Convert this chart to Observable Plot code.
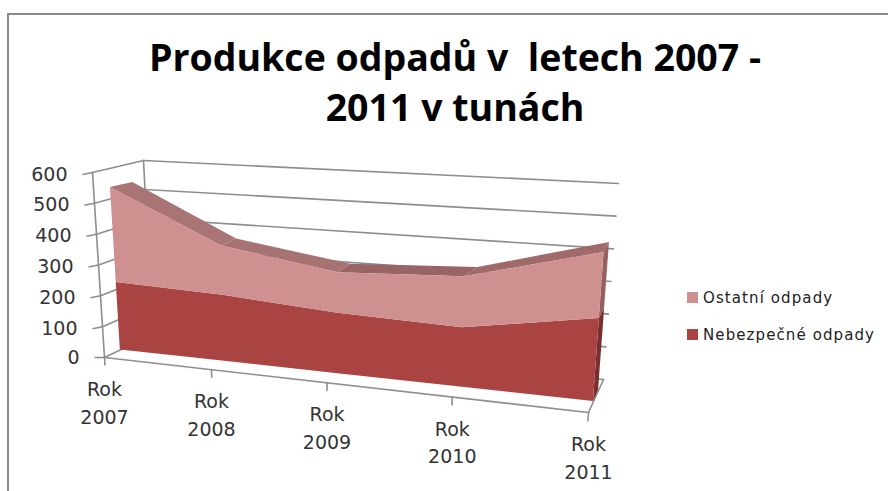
<!DOCTYPE html>
<html lang="cs">
<head>
<meta charset="utf-8">
<script src="https://cdn.jsdelivr.net/npm/d3@7"></script>
<script src="https://cdn.jsdelivr.net/npm/@observablehq/plot@0.6"></script>
<style>
html,body{margin:0;padding:0;background:#fff;width:888px;height:491px;overflow:hidden}
#wrap{position:relative;width:888px;height:491px}
#frame{position:absolute;left:7px;top:13px;width:881px;height:478px;border-top:2px solid #8c8c8c;border-left:2px solid #8c8c8c;box-sizing:border-box}
#title{position:absolute;left:0;top:32px;width:910px;text-align:center;font:700 37.5px/50px "Open Sans",sans-serif;color:#000}
#chart{position:absolute;left:0;top:130px}
.lg{position:absolute;left:687px;font:15px/18px "DejaVu Sans",sans-serif;color:#222;letter-spacing:1.1px;white-space:nowrap}
.lg i{position:absolute;left:0;top:3px;width:11px;height:11px}
.lg span{position:absolute;left:16px;top:0}
</style>
</head>
<body>
<div id="wrap">
<div id="frame"></div>
<div id="title">Produkce odpadů v&nbsp; letech 2007 -<br>2011 v tunách</div>
<div id="chart"></div>
<div class="lg" style="top:289px"><i style="background:#cf9090"></i><span>Ostatní odpady</span></div>
<div class="lg" style="top:326px"><i style="background:#a94442"></i><span>Nebezpečné odpady</span></div>
</div>
<script>
const categories = ["Rok\n2007", "Rok\n2008", "Rok\n2009", "Rok\n2010", "Rok\n2011"];
const nebezpecne = [223, 213, 190, 181, 247];
const ostatni = [314, 159, 127, 156, 196];
const valueTicks = [0, 100, 200, 300, 400, 500, 600];

// 3D box of the chart: category foreshortening plus corners of the front and back planes
const k = 1.175, vMax = 600;
const FRONT = {bl:[104,357], br:[588,412], tl:[92,172], tr:[602,207]};
const BACK  = {bl:[152,334], br:[603,379], tl:[143,160], tr:[618,183]};
const bandNudge = [3, -1, 0, 4, 0];
const lerp = (a,b,t) => a + (b-a)*t;
const sOf = i => { const u = i/(categories.length-1); return u/(u + k*(1-u)); };
function project(i, v, z) {
  const s = sOf(i), w = v/vMax;
  const at = (P,c) => lerp(lerp(P.bl[c],P.br[c],s), lerp(P.tl[c],P.tr[c],s), w);
  return [lerp(at(FRONT,0),at(BACK,0),z), lerp(at(FRONT,1),at(BACK,1),z)];
}
const px = (i,v,z) => project(i,v,z)[0], py = (i,v,z) => project(i,v,z)[1];
const Z1 = 0.33, Z2 = 0.67, ZBAND = 0.71;
const tickX = v => px(0,v,0) - 10, tickY = v => py(0,v,0) + (v ? 2 : 0);

const rows = categories.map((c,i) => ({i, c, low: nebezpecne[i], high: nebezpecne[i]+ostatni[i]}));
const faceArea = (lo, hi, fill) => Plot.area(rows, {
  x1: d => px(d.i, lo(d), Z1), y1: d => py(d.i, lo(d), Z1),
  x2: d => px(d.i, hi(d), Z1), y2: d => py(d.i, hi(d), Z1), fill});
const seg = (a,b) => rows.slice(a,b+1);
const topBand = (a,b,fill) => Plot.area(seg(a,b), {
  x1: d => px(d.i, d.high, Z1), y1: d => py(d.i, d.high, Z1),
  x2: d => px(d.i, d.high, ZBAND) + bandNudge[d.i], y2: d => py(d.i, d.high, ZBAND), fill});
const last = rows[rows.length-1];
const sideFace = (lo, hi, fill) => Plot.area([Z1,Z2], {
  x1: z => px(last.i, lo, z), y1: z => py(last.i, lo, z),
  x2: z => px(last.i, hi, z), y2: z => py(last.i, hi, z), fill});

const gridStyle = {stroke:"#8e8e8e", strokeWidth:1.6};
const wire = pts => Plot.line(pts, {x: p => px(...p), y: p => py(...p), ...gridStyle});
const n = categories.length-1;

const marks = [];
for (const v of valueTicks) {
  marks.push(wire([[0,v,0],[0,v,1]]));
  marks.push(wire([[0,v,1],[n,v,1]]));
}
marks.push(Plot.link(valueTicks, {x1: tickX, y1: tickY, x2: v => px(0,v,0), y2: v => py(0,v,0), ...gridStyle}));
marks.push(wire([[0,0,1],[0,vMax,1]]));
marks.push(wire([[0,0,0],[0,vMax,0]]));
marks.push(wire([[0,0,0],[n,0,0]]));
marks.push(wire([[n,0,0],[n,0,1]]));
categories.forEach((c,i) => marks.push(wire([[i,0,0],[i,-24,0]])));

marks.push(
  sideFace(0, last.low, "#7a2f2e"),
  sideFace(last.low, last.high, "#96605f"),
  topBand(0,1,"#a87474"), topBand(1,2,"#a67272"), topBand(2,3,"#986464"), topBand(3,4,"#a06a6a"),
  faceArea(() => 0, d => d.low, "#a94442"),
  faceArea(d => d.low, d => d.high, "#cf9090"),
  Plot.text(valueTicks, {
    x: tickX, y: tickY, text: v => String(v),
    textAnchor:"end", dx:-15, fontSize:19, fontFamily:"DejaVu Sans", fill:"#333"}),
  Plot.text(rows, {
    x: d => px(d.i,0,0), y: d => py(d.i,0,0), text: d => d.c,
    lineAnchor:"top", dy:19, lineHeight:1.45, fontSize:19, fontFamily:"DejaVu Sans", fill:"#333"})
);

document.getElementById("chart").append(Plot.plot({
  width: 888, height: 361, margin: 0,
  x: {domain:[0,888], range:[0,888], axis:null},
  y: {domain:[130,491], range:[0,361], axis:null},
  marks
}));
</script>
</body>
</html>
